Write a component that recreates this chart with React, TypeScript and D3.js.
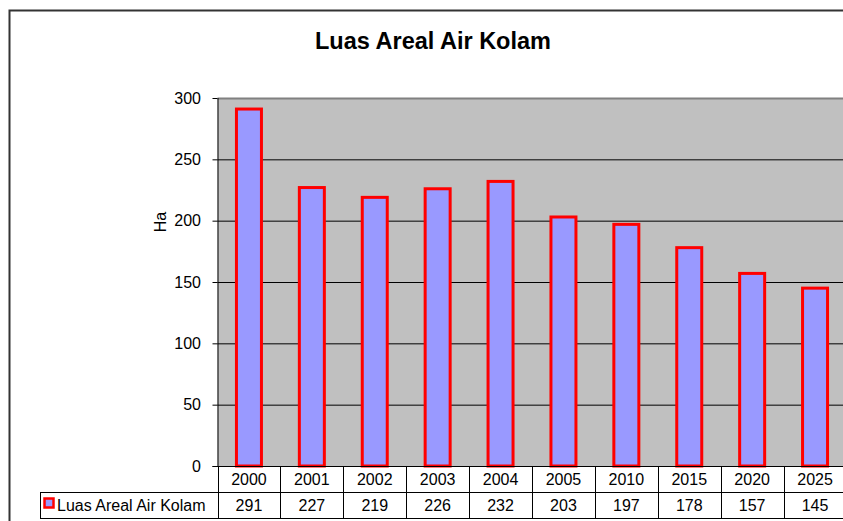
import React from "react";
import * as d3 from "d3";

const categories = ["2000", "2001", "2002", "2003", "2004", "2005", "2010", "2015", "2020", "2025"];
const values = [291, 227, 219, 226, 232, 203, 197, 178, 157, 145];
const yTicks = [0, 50, 100, 150, 200, 250, 300];
const seriesName = "Luas Areal Air Kolam";
const title = "Luas Areal Air Kolam";
const yLabel = "Ha";

export default function App() {
  const W = 843, H = 521;
  const left = 217.5, top = 98, bottom = 466;
  const band = 62.9;
  const right = left + band * categories.length;
  const x = d3.scaleBand().domain(categories).range([left, right]).paddingInner(0).paddingOuter(0);
  const y = d3.scaleLinear().domain([0, 300]).range([bottom, top]);
  const barW = 25;
  const font = "'Liberation Sans', Arial, sans-serif";
  const row1 = bottom, row2 = 492, row3 = 518;
  return (
    <svg width={W} height={H} style={{ position: "absolute", left: 0, top: 0 }} fontFamily={font}>
      <rect x={0} y={0} width={W} height={H} fill="#fff" />
      <rect x={9.5} y={10.5} width={W + 20} height={H + 20} fill="none" stroke="#333" strokeWidth={2} />
      <text x={433} y={49} textAnchor="middle" fontSize={23.5} fontWeight="bold" fill="#000">{title}</text>
      {/* plot area */}
      <rect x={left} y={top} width={right - left} height={bottom - top} fill="#C0C0C0" />
      {yTicks.map((t) => (
        <g key={t}>
          {t > 0 && t < 300 && (
            <line x1={left} x2={right} y1={y(t) + 0.5} y2={y(t) + 0.5} stroke="#000" strokeWidth={1} />
          )}
          <line x1={left - 5} x2={left} y1={y(t) + 0.5} y2={y(t) + 0.5} stroke="#000" strokeWidth={1} />
          <text x={201} y={y(t)} dy="0.35em" textAnchor="end" fontSize={16} fill="#000">{t}</text>
        </g>
      ))}
      <line x1={left} x2={right} y1={top + 0.5} y2={top + 0.5} stroke="#808080" strokeWidth={2} />
      {values.map((v, i) => {
        const cx = (x(categories[i]) as number) + x.bandwidth() / 2;
        return (
          <rect key={i} x={cx - barW / 2} y={y(v)} width={barW} height={bottom - y(v)}
            fill="#9999FF" stroke="#FF0000" strokeWidth={3} />
        );
      })}
      <line x1={left + 0.5} x2={left + 0.5} y1={top} y2={bottom} stroke="#000" strokeWidth={1} />
      <text transform={`translate(166,222) rotate(-90)`} textAnchor="middle" fontSize={16} fill="#000">{yLabel}</text>
      {/* data table */}
      <line x1={left - 5} x2={right} y1={row1 + 0.5} y2={row1 + 0.5} stroke="#000" strokeWidth={1} />
      <line x1={40} x2={right} y1={row2 + 0.5} y2={row2 + 0.5} stroke="#000" strokeWidth={1} />
      <line x1={40} x2={right} y1={row3 + 0.5} y2={row3 + 0.5} stroke="#000" strokeWidth={1} />
      <line x1={40.5} x2={40.5} y1={row2} y2={row3} stroke="#000" strokeWidth={1} />
      {categories.map((c, i) => {
        const x0 = x(c) as number;
        const cx = x0 + x.bandwidth() / 2;
        return (
          <g key={c}>
            <line x1={Math.round(x0) + 0.5} x2={Math.round(x0) + 0.5} y1={row1} y2={row3} stroke="#000" strokeWidth={1} />
            <text x={cx} y={(row1 + row2) / 2} dy="0.36em" textAnchor="middle" fontSize={16} fill="#000">{c}</text>
            <text x={cx} y={(row2 + row3) / 2} dy="0.36em" textAnchor="middle" fontSize={16} fill="#000">{values[i]}</text>
          </g>
        );
      })}
      <rect x={44.5} y={498.5} width={9} height={9} fill="#9999FF" stroke="#FF0000" strokeWidth={2.5} />
      <text x={57} y={(row2 + row3) / 2} dy="0.36em" fontSize={16} fill="#000">{seriesName}</text>
    </svg>
  );
}
